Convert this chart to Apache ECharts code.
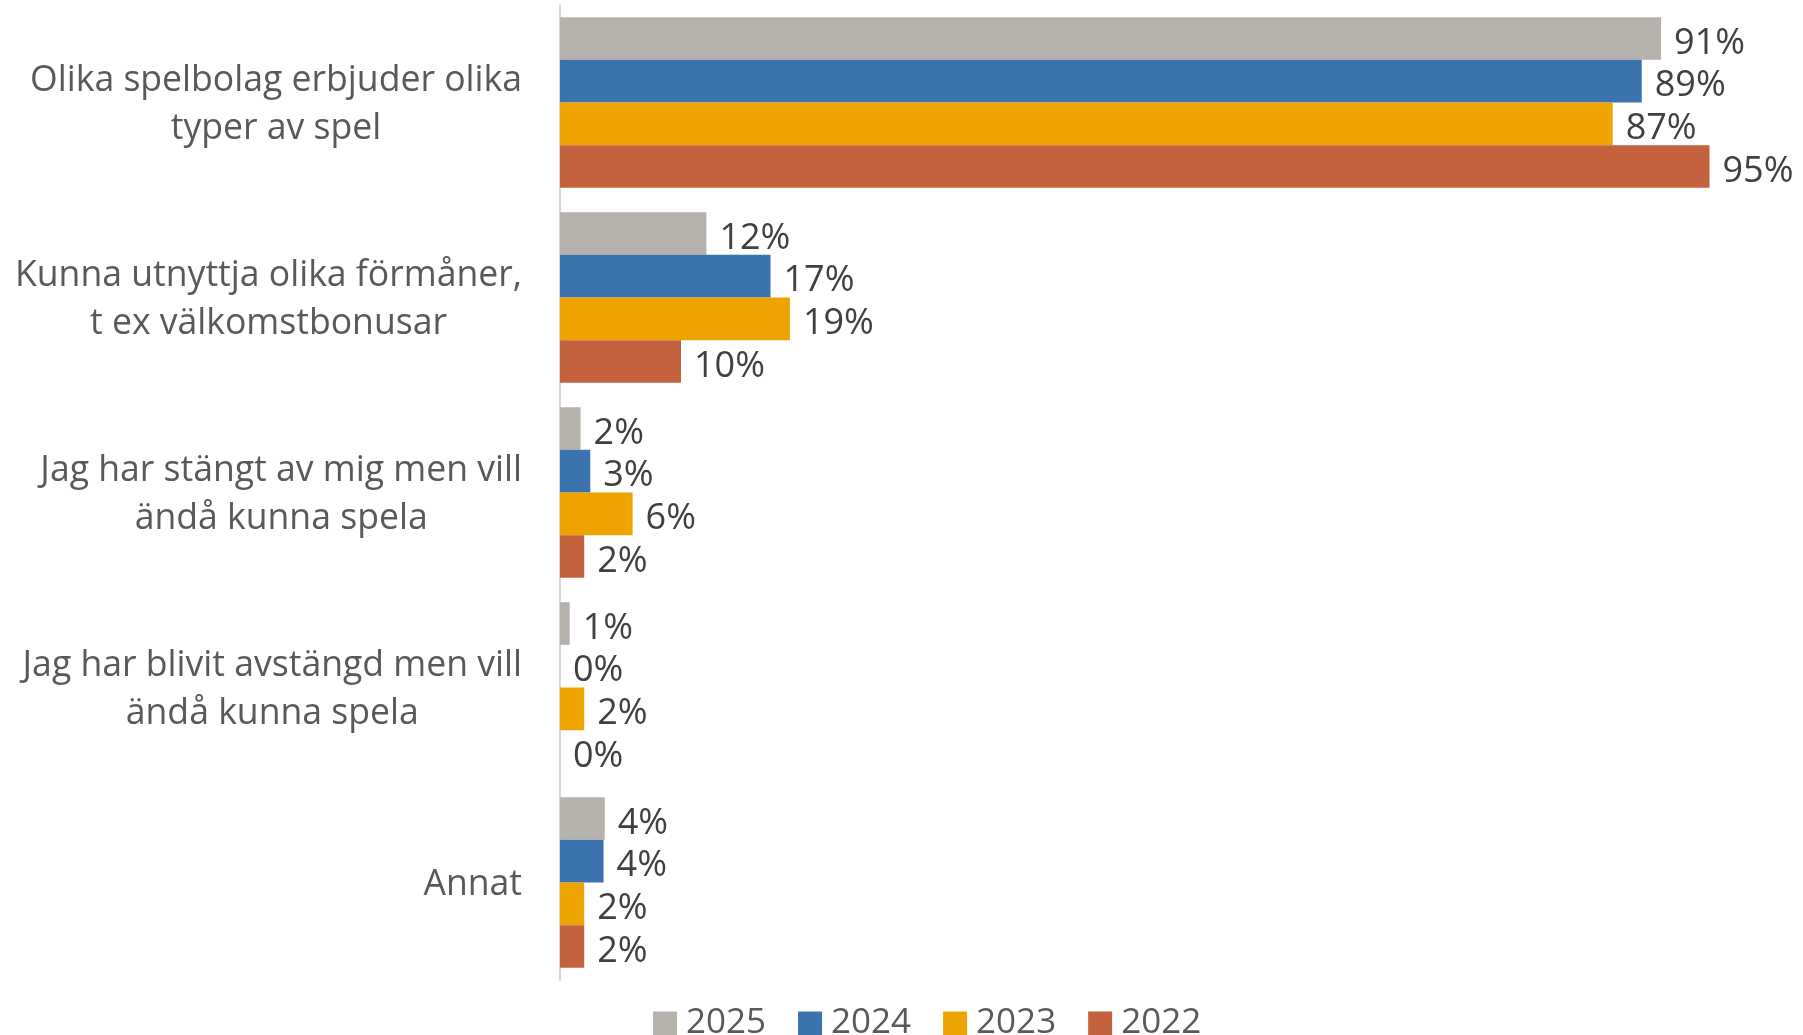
<!DOCTYPE html>
<html>
<head>
<meta charset="utf-8">
<script src="https://cdn.jsdelivr.net/npm/echarts@6/dist/echarts.min.js"></script>
<style>
  html, body { margin: 0; padding: 0; background: #fff; }
  #chart { width: 1803px; height: 1035px; }
</style>
</head>
<body>
<div id="chart"></div>
<script>
// data (bar lengths are unrounded, labels show rounded %)
const categories = [
  'Olika spelbolag erbjuder olika\ntyper av spel',
  'Kunna utnyttja olika förmåner,\nt ex välkomstbonusar',
  'Jag har stängt av mig men vill\nändå kunna spela',
  'Jag har blivit avstängd men vill\nändå kunna spela',
  'Annat'
]
const years = ['2025', '2024', '2023', '2022']
const values2025 = [91, 12.1, 1.7, 0.8, 3.7]
const values2024 = [89.4, 17.4, 2.5, 0, 3.6]
const values2023 = [87, 19, 6, 2, 2]
const values2022 = [95, 10, 2, 0, 2]

const colors = ['#b5b2ab', '#3b73ae', '#eda400', '#c5623e']
const fontFamily = '"Open Sans", "Noto Sans", sans-serif'

const chart = echarts.init(document.getElementById('chart'))
const allValues = [values2025, values2024, values2023, values2022]

const series = years.map(function (y, i) {
  return {
    name: y,
    type: 'bar',
    data: allValues[i],
    barGap: '0%',
    barCategoryGap: '12.5%',
    itemStyle: { color: colors[i] },
    label: {
      show: true,
      position: 'right',
      distance: 13,
      offset: [0, 5],
      formatter: function (p) { return Math.round(p.value) + '%' },
      color: '#404040',
      fontSize: 36,
      fontFamily: fontFamily
    }
  }
})

chart.setOption({
  animation: false,
  color: colors,
  grid: { left: 560, right: 33, top: 5, bottom: 55 },
  legend: {
    data: years,
    left: 648,
    top: 1006,
    padding: [0, 5],
    itemWidth: 24,
    itemHeight: 24,
    itemGap: 32,
    icon: 'rect',
    textStyle: { color: '#595959', fontSize: 35, fontFamily: fontFamily, padding: [0, 0, 0, 4] }
  },
  xAxis: {
    type: 'value',
    min: 0,
    max: 100,
    show: false
  },
  yAxis: {
    type: 'category',
    data: categories,
    inverse: true,
    axisLine: { show: true, lineStyle: { color: '#d9d9d9', width: 2 } },
    axisTick: { show: false },
    axisLabel: {
      margin: 38,
      color: '#595959',
      fontSize: 35.6,
      fontFamily: fontFamily,
      lineHeight: 48,
      padding: [5, 0, 0, 0],
      formatter: function (v) {
        return v.split('\n').map(function (l) { return '{c|' + l + '}' }).join('\n')
      },
      rich: {
        c: { align: 'center', fontSize: 35.6, lineHeight: 48, color: '#595959', fontFamily: fontFamily }
      }
    }
  },
  series: series
})
</script>
</body>
</html>
